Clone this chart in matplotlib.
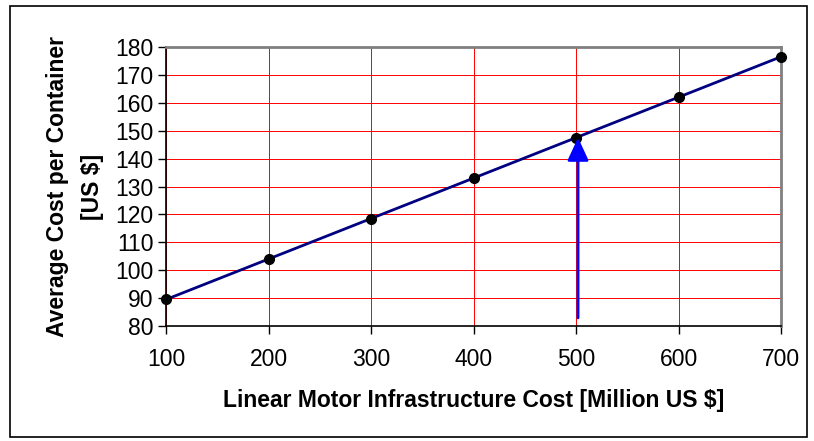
import matplotlib.pyplot as plt
from matplotlib.patches import Rectangle

# data
infra_cost = [100, 200, 300, 400, 500, 600, 700]
avg_cost = [89.5, 104, 118.5, 133, 147.5, 162, 176.5]
arrow_x = 502
arrow_from = 82.9
arrow_to = 147.5

plt.rcParams['font.family'] = ['Liberation Sans', 'DejaVu Sans']

fig = plt.figure(figsize=(8.14, 4.41), dpi=100)
ax = fig.add_axes([166 / 814, 1 - 326 / 441, 615 / 814, 279 / 441])

# frame around the whole chart
fig.patches.append(Rectangle((10 / 814, 4 / 441), 797 / 814, 431 / 441,
                             transform=fig.transFigure, fill=False,
                             edgecolor='black', linewidth=1.2))

ax.plot(infra_cost, avg_cost, color='#000080', linewidth=2, zorder=3)
ax.plot(infra_cost, avg_cost, 'o', color='black', markersize=7,
        clip_on=False, zorder=4)

ax.annotate('', xy=(arrow_x, arrow_to), xytext=(arrow_x, arrow_from),
            arrowprops=dict(arrowstyle='-|>,head_width=0.65,head_length=1.4',
                            color='#0000ff', linewidth=2,
                            shrinkA=0, shrinkB=0), zorder=5)

ax.set_xlim(100, 700)
ax.set_ylim(80, 180)
ax.set_xticks(infra_cost)
ax.set_yticks(range(80, 181, 10))
ax.grid(True, color='#ff0000', linewidth=0.7)
ax.set_axisbelow(True)

for s in ['top', 'right']:
    ax.spines[s].set_color('#808080')
    ax.spines[s].set_linewidth(2)
for s in ['left', 'bottom']:
    ax.spines[s].set_color('black')
    ax.spines[s].set_linewidth(1.2)

ax.tick_params(axis='both', direction='out', length=6, width=1,
               labelsize=16.5, colors='black')
ax.tick_params(axis='x', pad=10)
ax.tick_params(axis='y', pad=3)

ax.set_xlabel('Linear Motor Infrastructure Cost [Million US $]',
              fontsize=16.5, fontweight='bold', labelpad=13)
ax.set_ylabel('Average Cost per Container\n[US $]',
              fontsize=16.5, fontweight='bold', labelpad=8, linespacing=1.65)

fig.savefig('out.png', dpi=100)
